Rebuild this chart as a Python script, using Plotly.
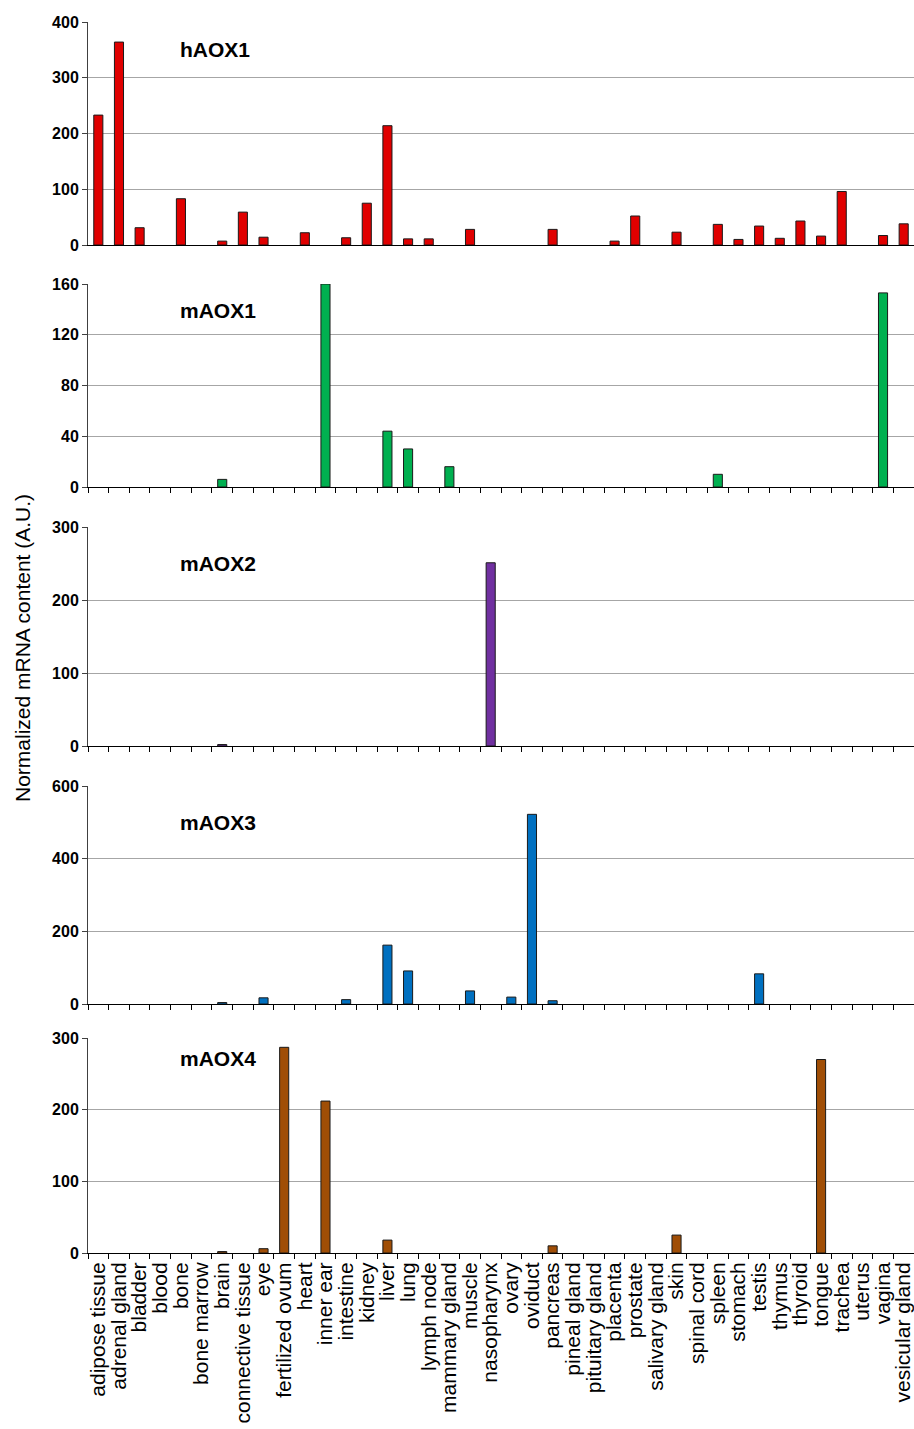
import plotly.graph_objects as go

categories = ["adipose tissue", "adrenal gland", "bladder", "blood", "bone", "bone marrow",
              "brain", "connective tissue", "eye", "fertilized ovum", "heart", "inner ear",
              "intestine", "kidney", "liver", "lung", "lymph node", "mammary gland", "muscle",
              "nasopharynx", "ovary", "oviduct", "pancreas", "pineal gland", "pituitary gland",
              "placenta", "prostate", "salivary gland", "skin", "spinal cord", "spleen",
              "stomach", "testis", "thymus", "thyroid", "tongue", "trachea", "uterus",
              "vagina", "vesicular gland"]

hAOX1 = [233, 364, 31, 0, 83, 0, 7, 59, 14, 0, 22, 0, 13, 75, 214, 11, 11, 0, 28, 0,
         0, 0, 28, 0, 0, 7, 52, 0, 23, 0, 37, 10, 34, 12, 43, 16, 96, 0, 17, 38]
mAOX1 = [0, 0, 0, 0, 0, 0, 6, 0, 0, 0, 0, 160, 0, 0, 44, 30, 0, 16, 0, 0,
         0, 0, 0, 0, 0, 0, 0, 0, 0, 0, 10, 0, 0, 0, 0, 0, 0, 0, 153, 0]
mAOX2 = [0, 0, 0, 0, 0, 0, 2, 0, 0, 0, 0, 0, 0, 0, 0, 0, 0, 0, 0, 251,
         0, 0, 0, 0, 0, 0, 0, 0, 0, 0, 0, 0, 0, 0, 0, 0, 0, 0, 0, 0]
mAOX3 = [0, 0, 0, 0, 0, 0, 4, 0, 17, 0, 0, 0, 12, 0, 162, 91, 0, 0, 36, 0,
         19, 522, 9, 0, 0, 0, 0, 0, 0, 0, 0, 0, 83, 0, 0, 0, 0, 0, 0, 0]
mAOX4 = [0, 0, 0, 0, 0, 0, 2, 0, 6, 287, 0, 212, 0, 0, 18, 0, 0, 0, 0, 0,
         0, 0, 10, 0, 0, 0, 0, 0, 25, 0, 0, 0, 0, 0, 0, 270, 0, 0, 0, 0]

series_names = ["hAOX1", "mAOX1", "mAOX2", "mAOX3", "mAOX4"]
series_values = [hAOX1, mAOX1, mAOX2, mAOX3, mAOX4]
series_colors = ["#E00000", "#00B050", "#7030A0", "#0070C0", "#A04E06"]
y_max = [400, 160, 300, 600, 300]
y_dtick = [100, 40, 100, 200, 100]

W, H = 914, 1429
ML, MT, MB = 88, 22, 176
plot_bottom = H - MB
plot_h = plot_bottom - MT
panel_px = [(22, 245), (284, 487), (527, 746), (786, 1004), (1038, 1253)]
title_px = [50, 310, 563, 822, 1058]

def fy(px):
    return (plot_bottom - px) / plot_h

FONT = "Arial, Liberation Sans, sans-serif"
fig = go.Figure()
for i, (name, vals, col) in enumerate(zip(series_names, series_values, series_colors)):
    ax = "" if i == 0 else str(i + 1)
    fig.add_trace(go.Bar(
        x=categories, y=[v if v else None for v in vals], name=name, width=0.44,
        marker=dict(color=col, line=dict(color="#1a1a1a", width=1)),
        xaxis="x" + ax, yaxis="y" + ax, showlegend=False))
    top, bot = panel_px[i]
    last = (i == 4)
    fig.update_layout(**{
        "xaxis" + ax: dict(
            domain=[0, 1], anchor="y" + ax, type="category",
            categoryorder="array", categoryarray=categories,
            range=[-0.5, 39.5], dtick=1, automargin=False,
            showline=True, linecolor="#000000", linewidth=1,
            ticks="" if i == 0 else "outside", tickson="boundaries",
            ticklen=5, tickcolor="#000000", tickwidth=1,
            showticklabels=last, tickangle=-90,
            tickfont=dict(family=FONT, size=21, color="#000000"),
            showgrid=False, zeroline=False),
        "yaxis" + ax: dict(
            domain=[fy(bot), fy(top)], anchor="x" + ax, automargin=False,
            range=[0, y_max[i]], dtick=y_dtick[i], tick0=0,
            showline=True, linecolor="#404040", linewidth=1,
            ticks="outside", ticklen=5, tickcolor="#404040",
            tickfont=dict(family=FONT, size=16, color="#000000", weight="bold"),
            showgrid=True, gridcolor="#A6A6A6", gridwidth=1,
            zeroline=False),
    })
    fig.add_annotation(
        text="<b>" + name + "</b>", xref="paper", yref="paper",
        x=(178 - ML) / (W - ML), y=fy(title_px[i]),
        xanchor="left", yanchor="middle", showarrow=False,
        font=dict(family=FONT, size=21, color="#000000"))

fig.add_annotation(
    text="Normalized mRNA content (A.U.)", xref="paper", yref="paper",
    x=(22 - ML) / (W - ML), y=fy(648), textangle=-90,
    xanchor="center", yanchor="middle", showarrow=False,
    font=dict(family=FONT, size=21, color="#000000"))

fig.update_layout(
    width=W, height=H, margin=dict(l=ML, r=0, t=MT, b=MB, pad=0, autoexpand=False),
    paper_bgcolor="white", plot_bgcolor="white", bargap=0.56,
    font=dict(family=FONT))

fig.write_html("out.html", config={"displayModeBar": False},
               post_script="document.body.style.margin='0';document.body.style.overflow='hidden';")
